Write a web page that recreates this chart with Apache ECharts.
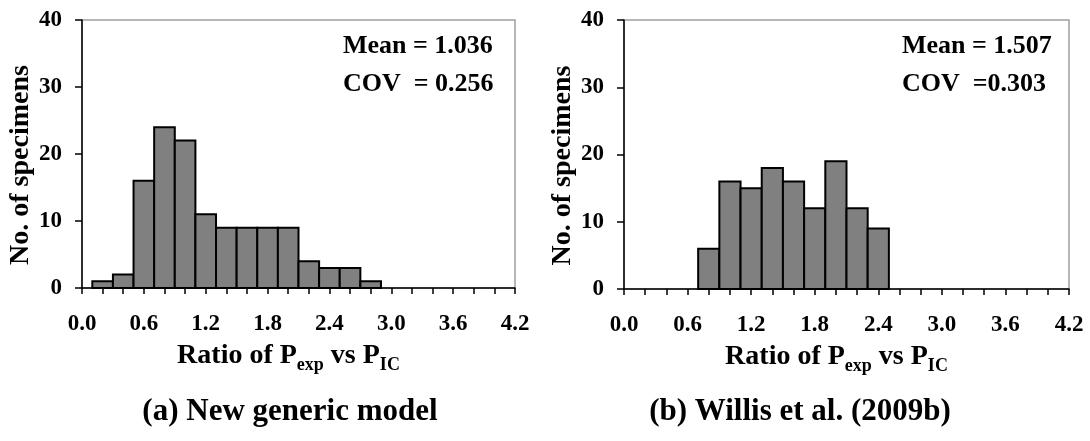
<!DOCTYPE html>
<html>
<head>
<meta charset="utf-8">
<script src="https://cdn.jsdelivr.net/npm/echarts@6/dist/echarts.min.js"></script>
<style>
  html, body { margin: 0; padding: 0; background: #fff; }
  #chart { width: 1090px; height: 441px; }
</style>
</head>
<body>
<div id="chart"></div>
<script>
// histogram bins (lower edge, bin width 0.2) and counts
const binWidth = 0.2
const newModelLower = [0.1, 0.3, 0.5, 0.7, 0.9, 1.1, 1.3, 1.5, 1.7, 1.9, 2.1, 2.3, 2.5, 2.7]
const newModelCounts = [1, 2, 16, 24, 22, 11, 9, 9, 9, 9, 4, 3, 3, 1]
const willisLower = [0.7, 0.9, 1.1, 1.3, 1.5, 1.7, 1.9, 2.1, 2.3]
const willisCounts = [6, 16, 15, 18, 16, 12, 19, 12, 9]

const xTicks = { min: 0, max: 4.2, interval: 0.6 }
const yTicks = { min: 0, max: 40, interval: 10 }

const stats = [
  ['Mean = 1.036', 'COV  = 0.256'],
  ['Mean = 1.507', 'COV  =0.303']
]
const captions = ['(a) New generic model', '(b) Willis et al. (2009b)']

const font = "'Liberation Serif', 'Times New Roman', serif"

const chart = echarts.init(document.getElementById('chart'))

function renderBin(params, api) {
  const start = api.coord([api.value(0), api.value(2)])
  const end = api.coord([api.value(1), 0])
  return {
    type: 'rect',
    shape: { x: start[0], y: start[1], width: end[0] - start[0], height: end[1] - start[1] },
    style: { fill: '#808080', stroke: '#000', lineWidth: 2 }
  }
}

function binData(lower, counts) {
  return lower.map((x, i) => [x, x + binWidth, counts[i]])
}

function xAxisFor(idx) {
  return {
    type: 'value',
    gridIndex: idx,
    min: xTicks.min,
    max: xTicks.max,
    interval: xTicks.interval,
    name: '{m|Ratio of P}{s|exp}{m| vs P}{s|IC}',
    nameLocation: 'middle',
    nameGap: 50,
    nameTextStyle: {
      padding: [0, 20, 0, 0],
      rich: {
        m: { fontFamily: font, fontWeight: 'bold', fontSize: 28, color: '#000', lineHeight: 36, verticalAlign: 'middle' },
        s: { fontFamily: font, fontWeight: 'bold', fontSize: 18, color: '#000', lineHeight: 36, verticalAlign: 'bottom' }
      }
    },
    axisLine: { onZero: false, lineStyle: { color: '#000', width: 1.5 } },
    axisTick: { show: true, inside: false, length: 6, lineStyle: { color: '#000', width: 1.5 } },
    minorTick: { show: true, splitNumber: 3, length: 6, lineStyle: { color: '#000', width: 1.5 } },
    axisLabel: {
      margin: 25,
      fontFamily: font, fontWeight: 'bold', fontSize: 23, color: '#000',
      formatter: v => v.toFixed(1)
    },
    splitLine: { show: false }
  }
}

function yAxisFor(idx) {
  return {
    type: 'value',
    gridIndex: idx,
    min: yTicks.min,
    max: yTicks.max,
    interval: yTicks.interval,
    name: 'No. of specimens',
    nameLocation: 'middle',
    nameGap: 45,
    nameTextStyle: {
      fontFamily: font, fontWeight: 'bold', fontSize: 28, color: '#000',
      padding: [0, 22, 0, 0]
    },
    axisLine: { show: true, lineStyle: { color: '#000', width: 1.5 } },
    axisTick: { show: true, inside: false, length: 7, lineStyle: { color: '#000', width: 1.5 } },
    axisLabel: { margin: 20, fontFamily: font, fontWeight: 'bold', fontSize: 23, color: '#000' },
    splitLine: { show: false }
  }
}

function statText(x, y, text) {
  return {
    type: 'text', left: x, top: y,
    style: { text: text, fontFamily: font, fontWeight: 'bold', fontSize: 26, fill: '#000' }
  }
}

function captionText(cx, y, text) {
  return {
    type: 'text', x: cx, y: y,
    style: { text: text, fontFamily: font, fontWeight: 'bold', fontSize: 31, fill: '#000', align: 'center', verticalAlign: 'middle' }
  }
}

chart.setOption({
  animation: false,
  grid: [
    { left: 82, right: 575, top: 20, bottom: 153, show: true, borderColor: '#a0a0a0', borderWidth: 1.5 },
    { left: 624, right: 21, top: 20, bottom: 152, show: true, borderColor: '#a0a0a0', borderWidth: 1.5 }
  ],
  xAxis: [xAxisFor(0), xAxisFor(1)],
  yAxis: [yAxisFor(0), yAxisFor(1)],
  series: [
    {
      type: 'custom', xAxisIndex: 0, yAxisIndex: 0,
      renderItem: renderBin,
      encode: { x: [0, 1], y: 2 },
      data: binData(newModelLower, newModelCounts)
    },
    {
      type: 'custom', xAxisIndex: 1, yAxisIndex: 1,
      renderItem: renderBin,
      encode: { x: [0, 1], y: 2 },
      data: binData(willisLower, willisCounts)
    }
  ],
  graphic: [
    statText(343, 33, stats[0][0]),
    statText(343, 71, stats[0][1]),
    statText(902, 33, stats[1][0]),
    statText(902, 71, stats[1][1]),
    captionText(290, 412, captions[0]),
    captionText(800, 412, captions[1])
  ]
})
</script>
</body>
</html>
